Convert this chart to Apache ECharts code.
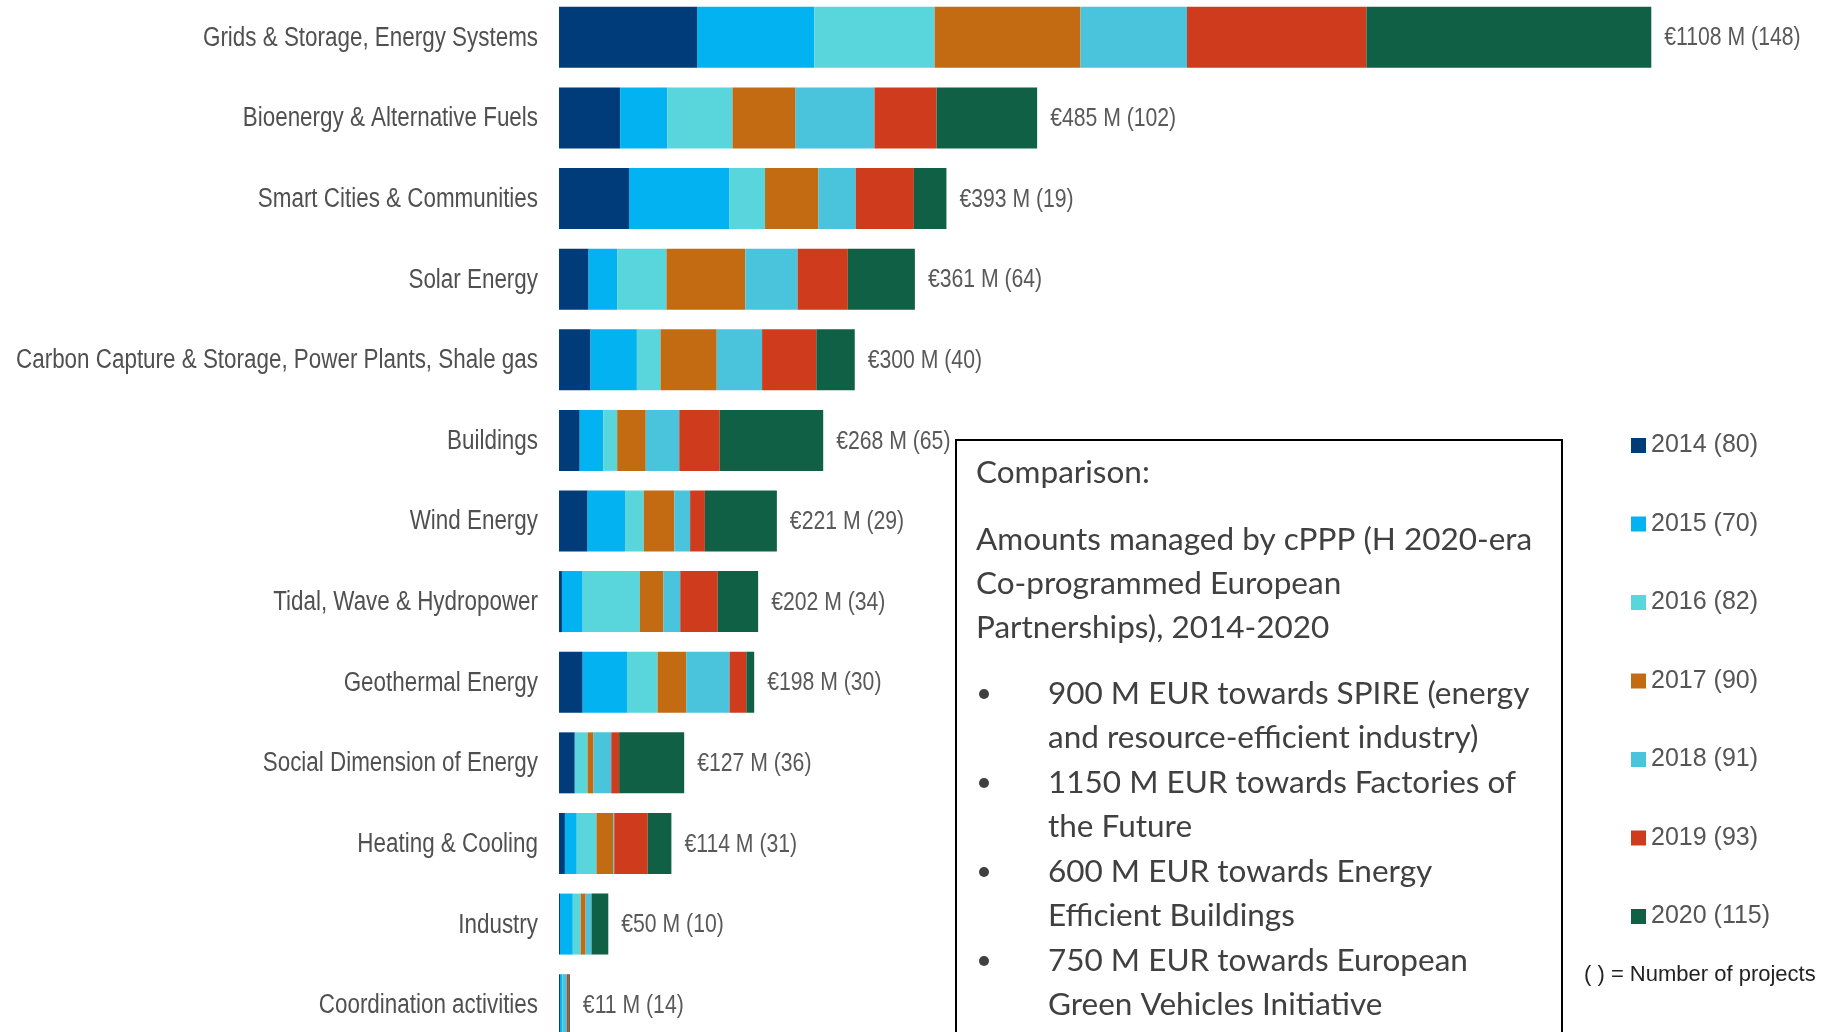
<!DOCTYPE html>
<html>
<head>
<meta charset="utf-8">
<script src="https://cdn.jsdelivr.net/npm/echarts@6/dist/echarts.min.js"></script>
<style>
  html, body { margin: 0; padding: 0; background: #fff; }
  #chart { width: 1824px; height: 1032px; }
</style>
</head>
<body>
<div id="chart"></div>
<script>
// categories, top to bottom
const categories = [
  'Grids & Storage, Energy Systems',
  'Bioenergy & Alternative Fuels',
  'Smart Cities & Communities',
  'Solar Energy',
  'Carbon Capture & Storage, Power Plants, Shale gas',
  'Buildings',
  'Wind Energy',
  'Tidal, Wave & Hydropower',
  'Geothermal Energy',
  'Social Dimension of Energy',
  'Heating & Cooling',
  'Industry',
  'Coordination activities'
];
const totals = [1108, 485, 393, 361, 300, 268, 221, 202, 198, 127, 114, 50, 11];
const projects = [148, 102, 19, 64, 40, 65, 29, 34, 30, 36, 31, 10, 14];

// M EUR per year
const years = ['2014', '2015', '2016', '2017', '2018', '2019', '2020'];
const yearProjects = [80, 70, 82, 90, 91, 93, 115];
const v2014 = [140, 62, 71, 30, 32, 21, 29, 3, 24, 16, 6, 1, 1];
const v2015 = [119, 48, 102, 29, 47, 24, 38, 21, 45, 0, 12, 13, 2];
const v2016 = [122, 66, 36, 50, 24, 14, 19, 58, 31, 13, 20, 8, 1];
const v2017 = [148, 64, 54, 80, 57, 29, 31, 24, 29, 6, 17, 5, 0];
const v2018 = [108, 80, 38, 53, 46, 34, 16, 17, 44, 18, 1, 6, 4];
const v2019 = [182, 63, 59, 51, 55, 41, 15, 38, 17, 8, 34, 0, 2];
const v2020 = [289, 102, 33, 68, 39, 105, 73, 41, 8, 66, 24, 17, 1];
const yearValues = [v2014, v2015, v2016, v2017, v2018, v2019, v2020];
const colors = ['#003b7a', '#02b2f1', '#59d5dc', '#c36b12', '#4ac4dc', '#cf3b1d', '#106045'];

// text box content
const boxTitle = 'Comparison:';
const boxIntro = ['Amounts managed by cPPP (H 2020-era', 'Co-programmed European', 'Partnerships), 2014-2020'];
const boxBullets = [
  ['900 M EUR towards SPIRE (energy', 'and resource-efficient industry)'],
  ['1150 M EUR towards Factories of', 'the Future'],
  ['600 M EUR towards Energy', 'Efficient Buildings'],
  ['750 M EUR towards European', 'Green Vehicles Initiative']
];

const sans = '"Liberation Sans", Arial, sans-serif';
const boxFont = "Lato, 'Open Sans', sans-serif";

let mycharts = echarts.init(document.getElementById('chart'));

let series = years.map(function (y, i) {
  return {
    name: y,
    type: 'bar',
    stack: 'total',
    barWidth: 61,
    data: yearValues[i],
    itemStyle: { color: colors[i] }
  };
});

mycharts.setOption({
  animation: false,
  backgroundColor: '#fff',
  grid: { left: 559, top: -3, width: 1183, height: 1048, outerBoundsMode: 'none', containLabel: false },
  legend: {
    orient: 'vertical',
    left: 1626,
    top: 428,
    icon: 'rect',
    itemWidth: 15,
    itemHeight: 15,
    itemGap: 53.5,
    data: years,
    textStyle: {
      fontFamily: sans,
      fontSize: 25,
      lineHeight: 24,
      color: '#555'
    },
    formatter: function (name) {
      return name + ' (' + yearProjects[years.indexOf(name)] + ')';
    }
  },
  xAxis: {
    type: 'value',
    min: 0,
    max: 1200,
    show: false
  },
  yAxis: {
    type: 'category',
    inverse: true,
    data: categories,
    axisLine: { show: false },
    axisTick: { show: false },
    axisLabel: { show: false }
  },
  series: series
});

// labels drawn as condensed text (narrow sans look), placed through the axes
let graphics = [];
categories.forEach(function (c, i) {
  let p0 = mycharts.convertToPixel({ gridIndex: 0 }, [0, i]);
  let p1 = mycharts.convertToPixel({ gridIndex: 0 }, [totals[i], i]);
  graphics.push({
    type: 'text', x: p0[0] - 21, y: p0[1] + 1, scaleX: 0.83,
    style: { text: c, font: '27px ' + sans, fill: '#505050', align: 'right', verticalAlign: 'middle' }
  });
  graphics.push({
    type: 'text', x: p1[0] + 13, y: p1[1] + 1, scaleX: 0.815,
    style: {
      text: '€' + totals[i] + ' M (' + projects[i] + ')',
      font: '26px ' + sans, fill: '#595959', align: 'left', verticalAlign: 'middle'
    }
  });
});

// comparison box
graphics.push({
  type: 'rect',
  shape: { x: 956, y: 440, width: 606, height: 700 },
  style: { fill: '#fff', stroke: '#000', lineWidth: 2 },
  z: 100
});
graphics.push({
  type: 'text', x: 976, y: 473,
  style: { text: boxTitle, font: '31.5px ' + boxFont, fill: '#404040', verticalAlign: 'middle' },
  z: 101
});
boxIntro.forEach(function (t, i) {
  graphics.push({
    type: 'text', x: 976, y: 540 + i * 44,
    style: { text: t, font: '31.5px ' + boxFont, fill: '#404040', verticalAlign: 'middle' },
    z: 101
  });
});
boxBullets.forEach(function (lines, b) {
  let y0 = 694 + b * 89;
  graphics.push({
    type: 'circle', shape: { cx: 984, cy: y0, r: 5 },
    style: { fill: '#404040' }, z: 101
  });
  lines.forEach(function (t, j) {
    graphics.push({
      type: 'text', x: 1048, y: y0 + j * 44,
      style: { text: t, font: '31.5px ' + boxFont, fill: '#404040', verticalAlign: 'middle' },
      z: 101
    });
  });
});
graphics.push({
  type: 'text', x: 1584, y: 975,
  style: { text: '( ) = Number of projects', font: '22px ' + sans, fill: '#222', verticalAlign: 'middle' }
});

mycharts.setOption({ graphic: graphics });
</script>
</body>
</html>
